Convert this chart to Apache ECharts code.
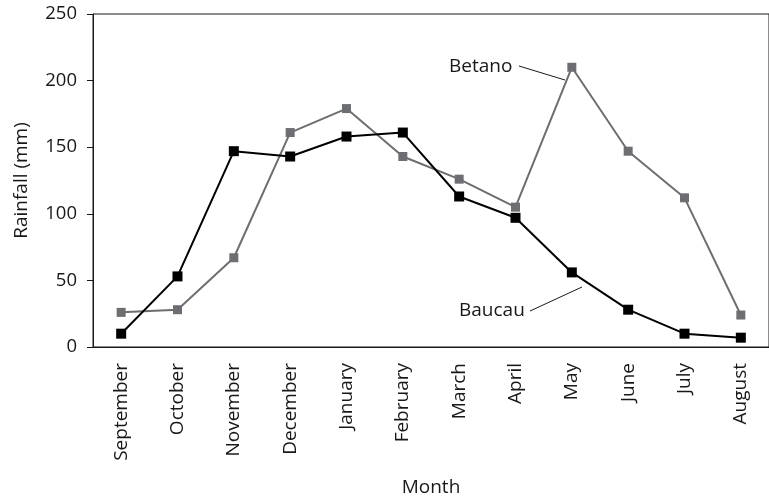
<!DOCTYPE html>
<html>
<head>
<meta charset="utf-8">
<script src="https://cdn.jsdelivr.net/npm/echarts@6/dist/echarts.min.js"></script>
<style>
	html,body{margin:0;padding:0;background:#fff;}
	#chart{width:769px;height:503px;}
</style>
</head>
<body>
<div id="chart"></div>
<script>
var months = ["September","October","November","December","January","February","March","April","May","June","July","August"];
var betano = [26,28,67,161,179,143,126,105,210,147,112,24];
var baucau = [10,53,147,143,158,161,113,97,56,28,10,7];
var yTicks = [0,50,100,150,200,250];

var textColor = "#1a1718";
var fontName = "Open Sans";

var myChart = echarts.init(document.getElementById("chart"));
var option = {
	animation:false,
	textStyle:{fontFamily:fontName,color:textColor},
	grid:{
		left:93,
		right:-5,
		top:14,
		bottom:156,
		show:true,
		borderColor:textColor,
		borderWidth:1
	},
	xAxis:{
		type:"category",
		data:months,
		name:"Month",
		nameLocation:"middle",
		nameGap:131,
		nameTextStyle:{fontSize:19,color:textColor,fontFamily:fontName},
		axisLine:{lineStyle:{color:textColor,width:1}},
		axisTick:{alignWithLabel:true,length:6,lineStyle:{color:textColor}},
		axisLabel:{rotate:90,margin:16,fontSize:19,color:textColor,fontFamily:fontName},
		splitLine:{show:false}
	},
	yAxis:{
		type:"value",
		min:yTicks[0],
		max:yTicks[yTicks.length-1],
		interval:yTicks[1]-yTicks[0],
		name:"Rainfall (mm)",
		nameLocation:"middle",
		nameGap:62,
		nameTextStyle:{fontSize:19,color:textColor,fontFamily:fontName},
		axisLine:{show:true,lineStyle:{color:textColor,width:1}},
		axisTick:{show:true,length:6,lineStyle:{color:textColor}},
		axisLabel:{margin:16,fontSize:18.5,color:textColor,fontFamily:fontName},
		splitLine:{show:false}
	},
	series:[{
		name:"Betano",
		type:"line",
		data:betano,
		symbol:"rect",
		symbolSize:9,
		lineStyle:{color:"#6d6e71",width:2},
		itemStyle:{color:"#6d6e71"}
	},{
		name:"Baucau",
		type:"line",
		data:baucau,
		symbol:"rect",
		symbolSize:10,
		lineStyle:{color:"#000",width:2},
		itemStyle:{color:"#000"}
	}],
	//手动标注的系列名称和引线
	graphic:[
		{type:"text",left:449,top:57,style:{text:"Betano",font:"19px "+fontName,fill:textColor}},
		{type:"line",shape:{x1:519,y1:66,x2:565,y2:80},style:{stroke:textColor,lineWidth:1}},
		{type:"text",left:459,top:301,style:{text:"Baucau",font:"19px "+fontName,fill:textColor}},
		{type:"line",shape:{x1:530,y1:311,x2:582,y2:287},style:{stroke:textColor,lineWidth:1}}
	]
};
myChart.setOption(option);
</script>
</body>
</html>
